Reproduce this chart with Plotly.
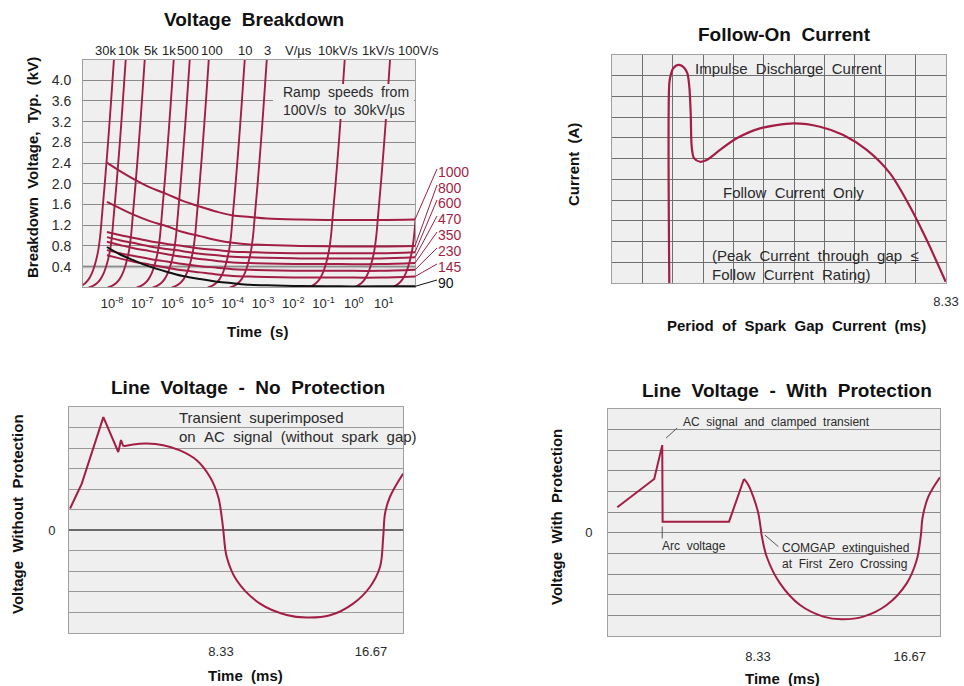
import plotly.graph_objects as go

# ======================= DATA =======================
# --- Panel 1: Voltage Breakdown ---
RAMP_NAMES = ["30k V/µs", "10k V/µs", "5k V/µs", "1k V/µs", "500 V/µs", "100 V/µs",
              "10 V/µs", "3 V/µs", "10kV/s", "1kV/s", "100V/s"]
RAMP_LOG_T_TOP = [-7.93, -7.54, -6.91, -5.95, -5.42, -4.79, -3.60, -2.87, -0.29, 1.21, 2.46]
RAMP_KV = [4.45, 3.6, 2.8, 2.0, 1.4, 1.0, 0.7, 0.45, 0.28, 0.16, 0.08, 0.03, 0.0]
RAMP_LOG_T_OFFSET = [0, -0.10, -0.20, -0.31, -0.40, -0.46, -0.53, -0.63, -0.73, -0.84, -0.96, -1.09, -1.23]
RAMP_TOP_LABELS = ["30k", "10k", "5k", "1k", "500", "100", "10", "3", "V/µs", "10kV/s", "1kV/s", "100V/s"]

BD_TIME_S = [6.8e-9, 1.8e-8, 4.9e-8, 1.8e-7, 6.6e-7, 2.2e-6, 8.1e-6, 3.0e-5, 1.0e-4,
             3.7e-4, 1.35e-3, 1.66e-2, 0.355, 7.4, 110]
BD_1000 = [2.41, 2.25, 2.10, 1.93, 1.80, 1.67, 1.56, 1.46, 1.39, 1.36, 1.33, 1.31, 1.30, 1.30, 1.31]
BD_800 = [1.65, 1.53, 1.41, 1.28, 1.18, 1.07, 0.99, 0.91, 0.86, 0.83, 0.82, 0.80, 0.79, 0.79, 0.80]
BD_600 = [1.07, 1.01, 0.96, 0.89, 0.84, 0.80, 0.75, 0.72, 0.69, 0.68, 0.67, 0.66, 0.66, 0.66, 0.68]
BD_470 = [0.97, 0.91, 0.86, 0.79, 0.74, 0.70, 0.65, 0.62, 0.59, 0.58, 0.57, 0.56, 0.56, 0.56, 0.58]
BD_350 = [0.88, 0.82, 0.76, 0.70, 0.64, 0.59, 0.55, 0.51, 0.48, 0.47, 0.46, 0.45, 0.45, 0.45, 0.47]
BD_230 = [0.72, 0.66, 0.61, 0.55, 0.50, 0.45, 0.41, 0.38, 0.35, 0.34, 0.33, 0.32, 0.32, 0.32, 0.34]
BD_145 = [0.62, 0.56, 0.50, 0.44, 0.38, 0.33, 0.29, 0.25, 0.22, 0.21, 0.20, 0.19, 0.19, 0.19, 0.21]
BD_90 = [0.78, 0.64, 0.53, 0.40, 0.30, 0.22, 0.16, 0.11, 0.08, 0.05, 0.04, 0.025, 0.02, 0.02, 0.02]
BD_LABELS = ["1000", "800", "600", "470", "350", "230", "145", "90"]
BD_CURVES = [BD_1000, BD_800, BD_600, BD_470, BD_350, BD_230, BD_145, BD_90]

KV_TICKS = [0.4, 0.8, 1.2, 1.6, 2.0, 2.4, 2.8, 3.2, 3.6, 4.0]
KV_TICK_TEXT = ["0.4", "0.8", "1.2", "1.6", "2.0", "2.4", "2.8", "3.2", "3.6", "4.0"]
T_TICKS = [1e-8, 1e-7, 1e-6, 1e-5, 1e-4, 1e-3, 1e-2, 1e-1, 1e0, 1e1]
T_TICK_TEXT = ["10<sup>-8</sup>", "10<sup>-7</sup>", "10<sup>-6</sup>", "10<sup>-5</sup>",
               "10<sup>-4</sup>", "10<sup>-3</sup>", "10<sup>-2</sup>", "10<sup>-1</sup>",
               "10<sup>0</sup>", "10<sup>1</sup>"]

# --- Panel 2: Follow-On Current (grid units) ---
FOC_X = [1.887, 1.887, 1.933, 2.019, 2.184, 2.348, 2.480, 2.546, 2.592, 2.625, 2.701, 2.899,
         3.119, 3.557, 4.107, 4.875, 5.972, 6.851, 7.618, 8.389, 9.157, 9.816, 10.366, 10.99]
FOC_Y = [0.0, 9.63, 10.03, 10.36, 10.52, 10.43, 10.12, 9.47, 8.19, 6.58, 6.02, 5.85,
         5.93, 6.42, 6.98, 7.46, 7.70, 7.54, 7.14, 6.42, 5.29, 3.68, 2.07, 0.06]
FOC_TICKS = [11]
FOC_TICK_TEXT = ["8.33"]

# --- Panel 3: Line Voltage - No Protection (ms, grid units) ---
NP_TRANSIENT_X = [-0.06, 0.59, 1.79, 2.62, 2.77, 2.90]
NP_TRANSIENT_Y = [1.06, 2.27, 5.51, 3.81, 4.39, 4.09]
NP_AC_X = [2.90, 3.45, 4.20, 5.12, 6.05, 6.98, 7.72, 8.18, 8.37, 8.46, 8.65, 9.20, 10.50,
           11.98, 13.09, 14.39, 15.68, 16.61, 17.17, 17.35, 17.45, 17.72, 18.46]
NP_AC_Y = [4.09, 4.18, 4.22, 4.14, 3.89, 3.41, 2.59, 1.62, 0.65, 0.0, -1.30, -2.43, -3.57,
           -4.12, -4.25, -4.14, -3.57, -2.76, -1.79, -0.33, 0.81, 1.62, 2.76]

# --- Panel 4: Line Voltage - With Protection ---
WP_CLAMP_X = [0.60, 2.63, 3.07, 3.09, 6.74, 7.56]
WP_CLAMP_Y = [1.24, 2.61, 4.25, 0.54, 0.54, 2.61]
WP_AC_X = [7.56, 7.80, 8.07, 8.35, 8.48, 8.53, 8.81, 9.54, 10.64, 11.92, 12.93, 14.12,
           15.40, 16.50, 17.05, 17.27, 17.38, 17.69, 18.33]
WP_AC_Y = [2.61, 2.32, 1.75, 0.94, 0.22, -0.11, -1.16, -2.45, -3.50, -4.06, -4.19, -4.06,
           -3.50, -2.45, -1.32, -0.19, 0.78, 1.75, 2.69]

MS_TICKS = [8.33, 16.67]
MS_TICK_TEXT = ["8.33", "16.67"]
V_TICKS = [0]
V_TICK_TEXT = ["0"]

# ======================= STYLE / LAYOUT =======================
W, H = 964, 686
RED = "#a31e44"
BG = "#efefef"
TXT = "#2a2a2a"
FONT = "Liberation Sans, Arial, sans-serif"


def fx(px):
    return px / W


def fy(py):
    return 1 - py / H


def sp(s):
    return s.replace(" ", "\u00a0\u00a0")


P1 = (83, 415, 60, 287.4)
P2 = (612, 946, 55, 283)
P3 = (69, 403, 407, 633)
P4 = (608, 940, 409, 636)


def dom(p):
    return [fx(p[0]), fx(p[1])], [fy(p[3]), fy(p[2])]


fig = go.Figure()

# ---- panel 1 traces ----
for name, top in zip(RAMP_NAMES, RAMP_LOG_T_TOP):
    fig.add_trace(go.Scatter(
        x=[10 ** (top + d) for d in RAMP_LOG_T_OFFSET], y=RAMP_KV,
        mode="lines", line=dict(color=RED, width=1.9, shape="spline"),
        name=name, xaxis="x", yaxis="y", showlegend=False))
for lab, vals in zip(BD_LABELS, BD_CURVES):
    fig.add_trace(go.Scatter(
        x=BD_TIME_S, y=vals, mode="lines",
        line=dict(color="#111111" if lab == "90" else RED, width=2, shape="spline"),
        name=lab, xaxis="x", yaxis="y", showlegend=False))

# ---- panel 2 ----
fig.add_trace(go.Scatter(x=FOC_X, y=FOC_Y, mode="lines",
                         line=dict(color=RED, width=2.2, shape="spline", smoothing=0.8),
                         xaxis="x2", yaxis="y2", showlegend=False))

# ---- panel 3 ----
fig.add_trace(go.Scatter(x=NP_TRANSIENT_X, y=NP_TRANSIENT_Y, mode="lines",
                         line=dict(color=RED, width=2), xaxis="x3", yaxis="y3", showlegend=False))
fig.add_trace(go.Scatter(x=NP_AC_X, y=NP_AC_Y, mode="lines",
                         line=dict(color=RED, width=2, shape="spline"),
                         xaxis="x3", yaxis="y3", showlegend=False))

# ---- panel 4 ----
fig.add_trace(go.Scatter(x=WP_CLAMP_X, y=WP_CLAMP_Y, mode="lines",
                         line=dict(color=RED, width=2), xaxis="x4", yaxis="y4", showlegend=False))
fig.add_trace(go.Scatter(x=WP_AC_X, y=WP_AC_Y, mode="lines",
                         line=dict(color=RED, width=2, shape="spline"),
                         xaxis="x4", yaxis="y4", showlegend=False))

tickfont = dict(family=FONT, size=13, color=TXT)
frame = dict(showline=True, linecolor="#a0a0a0", linewidth=1, mirror=True, zeroline=False,
             automargin=False)

d1x, d1y = dom(P1)
d2x, d2y = dom(P2)
d3x, d3y = dom(P3)
d4x, d4y = dom(P4)

Y1MAX = 4.39


def unit_grid(color):
    return dict(tickmode="linear", tick0=0, dtick=1, showgrid=True, gridcolor=color,
                gridwidth=1, ticks="")


fig.update_layout(
    width=W, height=H, autosize=False,
    margin=dict(l=0, r=0, t=0, b=0, pad=0, autoexpand=False),
    paper_bgcolor="white", plot_bgcolor=BG,
    font=dict(family=FONT, color=TXT),
    showlegend=False,
    xaxis=dict(domain=d1x, anchor="y", type="log", range=[-8.96, 2.03],
               tickvals=T_TICKS, ticktext=T_TICK_TEXT, showgrid=False,
               tickfont=tickfont, ticks="", ticklabelstandoff=4, **frame),
    yaxis=dict(domain=d1y, anchor="x", range=[0, Y1MAX], tickvals=KV_TICKS,
               ticktext=KV_TICK_TEXT, showgrid=True, gridcolor="#8a8a8a", gridwidth=1,
               tickfont=dict(family=FONT, size=14, color=TXT), ticks="",
               ticklabelstandoff=8, **frame),
    xaxis2=dict(domain=d2x, anchor="y2", range=[0, 11], tickvals=FOC_TICKS,
                ticktext=FOC_TICK_TEXT, showgrid=False, minor=unit_grid("#6f6f6f"),
                tickfont=tickfont, ticks="", ticklabelstandoff=6, **frame),
    yaxis2=dict(domain=d2y, anchor="x2", range=[0, 11], showticklabels=False,
                tickvals=[0], showgrid=False, minor=unit_grid("#6f6f6f"), ticks="", **frame),
    xaxis3=dict(domain=d3x, anchor="y3", range=[-0.12, 18.45], tickvals=MS_TICKS,
                ticktext=MS_TICK_TEXT, showgrid=False, tickfont=tickfont, ticks="",
                ticklabelstandoff=6, **frame),
    yaxis3=dict(domain=d3y, anchor="x3", range=[-5, 6], tickvals=V_TICKS,
                ticktext=V_TICK_TEXT, showgrid=False, minor=unit_grid("#9a9a9a"),
                tickfont=tickfont, ticks="", ticklabelstandoff=10, automargin=False,
                showline=True, linecolor="#a0a0a0", mirror=True,
                zeroline=True, zerolinecolor="#6a6a6a", zerolinewidth=2),
    xaxis4=dict(domain=d4x, anchor="y4", range=[0.09, 18.33], tickvals=MS_TICKS,
                ticktext=MS_TICK_TEXT, showgrid=False, tickfont=tickfont, ticks="",
                ticklabelstandoff=8, **frame),
    yaxis4=dict(domain=d4y, anchor="x4", range=[-5, 6], tickvals=V_TICKS,
                ticktext=V_TICK_TEXT, showgrid=True, gridcolor="#8a8a8a",
                minor=unit_grid("#8a8a8a"), tickfont=tickfont, ticks="",
                ticklabelstandoff=12, **frame),
)

ann = []


def text(t, x, y, size=14, bold=False, color=TXT, xanchor="center", angle=0, spaced=True,
         yanchor="middle"):
    s = sp(t) if spaced else t
    if bold:
        s = "<b>" + s + "</b>"
    ann.append(dict(text=s, x=fx(x), y=fy(y), xref="paper", yref="paper", showarrow=False,
                    xanchor=xanchor, yanchor=yanchor, textangle=angle, borderpad=0,
                    font=dict(family=FONT, size=size, color=color)))


def two_lines(l1, l2, x, ymid, size):
    text(l1, x, ymid, size, xanchor="left", yanchor="bottom")
    text(l2, x, ymid, size, xanchor="left", yanchor="top")


# titles
text("Voltage Breakdown", 254, 20, 19, bold=True, color="#111")
text("Follow-On Current", 784, 35, 19, bold=True, color="#111")
text("Line Voltage - No Protection", 248, 387, 19, bold=True, color="#111")
text("Line Voltage - With Protection", 787, 390, 19, bold=True, color="#111")

# axis titles
text("Breakdown Voltage, Typ. (kV)", 32, 168, 15, bold=True, color="#111", angle=-90)
text("Time (s)", 257, 331, 15, bold=True, color="#111")
text("Current (A)", 573, 165, 15, bold=True, color="#111", angle=-90)
text("Period of Spark Gap Current (ms)", 796, 325, 15, bold=True, color="#111")
text("Voltage Without Protection", 17, 514, 15, bold=True, color="#111", angle=-90)
text("Time (ms)", 245, 675, 15, bold=True, color="#111")
text("Voltage With Protection", 556, 517, 15, bold=True, color="#111", angle=-90)
text("Time (ms)", 782, 678, 15, bold=True, color="#111")

# panel 1 top ramp labels
RAMP_LABEL_PX = [105.5, 128.5, 151, 168.5, 188, 212, 245.5, 267, 298, 338, 378, 418]
for lab, xpx in zip(RAMP_TOP_LABELS, RAMP_LABEL_PX):
    text(lab, xpx, 50, 13, spaced=False, color="#222")

# "Ramp speeds" note (background box hides lines behind it)
shapes = [dict(type="rect", xref="paper", yref="paper", x0=fx(273), x1=fx(414),
               y0=fy(119), y1=fy(84), fillcolor=BG, line=dict(width=0), layer="above")]
two_lines("Ramp speeds from", "100V/s to 30kV/µs", 282, 100.5, 14)

# 0.4 kV band
y04 = d1y[0] + 0.4 / Y1MAX * (d1y[1] - d1y[0])
shapes.append(dict(type="line", xref="paper", yref="paper", x0=d1x[0], x1=d1x[1],
                   y0=y04, y1=y04, line=dict(color="#bdbdbd", width=3), layer="between"))

# right-side labels with leader lines
BD_LABEL_PY = [172, 188, 203, 219, 235, 251, 267, 283]
for lab, vals, lpy in zip(BD_LABELS, BD_CURVES, BD_LABEL_PY):
    col = "#111" if lab == "90" else RED
    yend = d1y[0] + vals[-1] / Y1MAX * (d1y[1] - d1y[0])
    shapes.append(dict(type="line", xref="paper", yref="paper", x0=d1x[1], y0=yend,
                       x1=fx(437), y1=fy(lpy - 3), line=dict(color=col, width=1)))
    text(lab, 437, lpy, 14, spaced=False, color=col, xanchor="left")

# panel 2 notes
text("Impulse Discharge Current", 789, 69, 15)
text("Follow Current Only", 793, 192, 15)
two_lines("(Peak Current through gap ≤", "Follow Current Rating)", 711, 264.5, 15)

# panel 3 notes
two_lines("Transient superimposed", "on AC signal (without spark gap)", 178, 426.5, 15)

# panel 4 notes + leaders
text("AC signal and clamped transient", 682, 422, 12, xanchor="left")
text("Arc voltage", 661, 546, 12, xanchor="left")
two_lines("COMGAP extinguished", "at First Zero Crossing", 781, 555.5, 12)
for (xa, ya, xb, yb) in [(3.28, 4.59, 3.89, 5.08), (3.07, 0.30, 3.07, -0.27),
                         (8.71, -0.11, 9.45, -0.67)]:
    shapes.append(dict(type="line", xref="x4", yref="y4", x0=xa, y0=ya, x1=xb, y1=yb,
                       line=dict(color="#555", width=1)))

fig.update_layout(annotations=ann, shapes=shapes)
# place the figure at the window's top-left, fixed size, no scrollbars / toolbar
fig.write_html(
    "out.html",
    config={"responsive": False, "displayModeBar": False},
    post_script="document.body.style.margin='0';document.body.style.overflow='hidden';",
)
